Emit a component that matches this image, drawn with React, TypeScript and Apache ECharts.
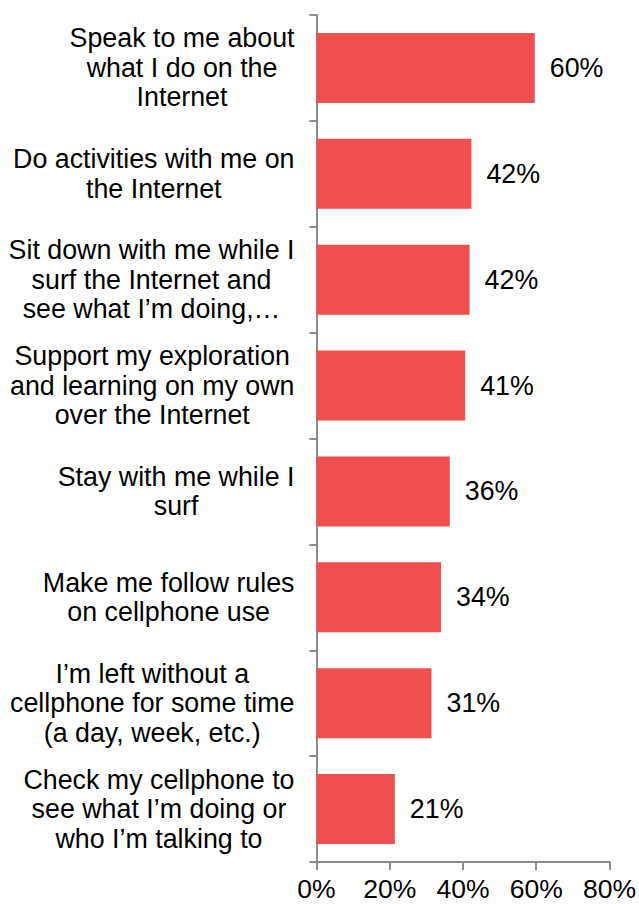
import React, { useEffect, useRef } from "react";
import * as echarts from "echarts";

const categories: string[] = [
  "Speak to me about\nwhat I do on the\nInternet",
  "Do activities with me on\nthe Internet",
  "Sit down with me while I\nsurf the Internet and\nsee what I’m doing,…",
  "Support my exploration\nand learning on my own\nover the Internet",
  "Stay with me while I\nsurf",
  "Make me follow rules\non cellphone use",
  "I’m left without a\ncellphone for some time\n(a day, week, etc.)",
  "Check my cellphone to\nsee what I’m doing or\nwho I’m talking to",
];

const values: number[] = [59.6, 42.3, 41.8, 40.6, 36.4, 34.0, 31.4, 21.4];

const xTicks: number[] = [0, 20, 40, 60, 80];

const FONT = "'Liberation Sans', Arial, sans-serif";

export default function App() {
  const ref = useRef<HTMLDivElement>(null);

  useEffect(() => {
    if (!ref.current) return;
    const chart = echarts.init(ref.current, null, { renderer: "svg" });
    chart.setOption({
      animation: false,
      backgroundColor: "#ffffff",
      grid: { left: 316.5, right: 28, top: 15, bottom: 42, containLabel: false },
      xAxis: {
        type: "value",
        min: xTicks[0],
        max: xTicks[xTicks.length - 1],
        interval: 20,
        axisLine: { show: true, lineStyle: { color: "#8c8c8c", width: 2 } },
        axisTick: { show: true, length: 8, lineStyle: { color: "#8c8c8c", width: 2 } },
        splitLine: { show: false },
        axisLabel: {
          formatter: "{value}%",
          fontFamily: FONT,
          fontSize: 26.5,
          color: "#000000",
          margin: 13,
        },
      },
      yAxis: {
        type: "category",
        data: categories,
        inverse: true,
        axisLine: { show: true, lineStyle: { color: "#8c8c8c", width: 2 } },
        axisTick: { show: true, length: 7, lineStyle: { color: "#8c8c8c", width: 2 } },
        axisLabel: {
          margin: 22,
          align: "right",
          fontFamily: FONT,
          fontSize: 26.8,
          color: "#000000",
          formatter: (v: string) =>
            v
              .split("\n")
              .map((l) => `{c|${l}}`)
              .join("\n"),
          rich: {
            c: {
              align: "center",
              fontFamily: FONT,
              fontSize: 26.8,
              lineHeight: 29.5,
              color: "#000000",
            },
          },
        },
      },
      series: [
        {
          type: "bar",
          data: values,
          barWidth: 70,
          itemStyle: { color: "#F04F4F" },
          label: {
            show: true,
            position: "right",
            distance: 15,
            fontFamily: FONT,
            fontSize: 26.8,
            color: "#000000",
            formatter: (p: any) => `${Math.round(p.value)}%`,
          },
        },
      ],
    });
    return () => chart.dispose();
  }, []);

  return <div ref={ref} style={{ width: 639, height: 904, position: "absolute", left: 0, top: 0 }} />;
}
